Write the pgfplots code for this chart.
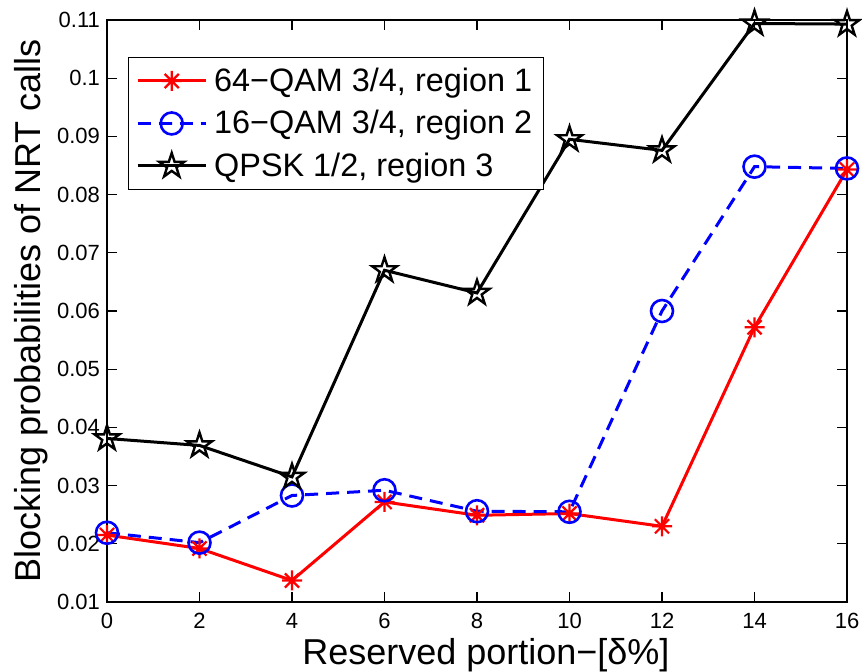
\documentclass[border=0pt]{standalone}
\usepackage{fontspec}
\setmainfont{Liberation Sans}
\usepackage{pgfplots}
\pgfplotsset{compat=1.18}
\pgfdeclareplotmark{pentagram}{%
  \pgfpathmoveto{\pgfpointpolar{90}{\pgfplotmarksize}}%
  \pgfpathlineto{\pgfpointpolar{126}{0.382\pgfplotmarksize}}%
  \pgfpathlineto{\pgfpointpolar{162}{\pgfplotmarksize}}%
  \pgfpathlineto{\pgfpointpolar{198}{0.382\pgfplotmarksize}}%
  \pgfpathlineto{\pgfpointpolar{234}{\pgfplotmarksize}}%
  \pgfpathlineto{\pgfpointpolar{270}{0.382\pgfplotmarksize}}%
  \pgfpathlineto{\pgfpointpolar{306}{\pgfplotmarksize}}%
  \pgfpathlineto{\pgfpointpolar{342}{0.382\pgfplotmarksize}}%
  \pgfpathlineto{\pgfpointpolar{18}{\pgfplotmarksize}}%
  \pgfpathlineto{\pgfpointpolar{54}{0.382\pgfplotmarksize}}%
  \pgfpathclose
  \pgfusepathqstroke
}
\pgfdeclareplotmark{matstar}{%
  \pgfpathmoveto{\pgfqpoint{0pt}{\pgfplotmarksize}}%
  \pgfpathlineto{\pgfqpoint{0pt}{-\pgfplotmarksize}}%
  \pgfpathmoveto{\pgfqpoint{\pgfplotmarksize}{0pt}}%
  \pgfpathlineto{\pgfqpoint{-\pgfplotmarksize}{0pt}}%
  \pgfpathmoveto{\pgfpointpolar{45}{\pgfplotmarksize}}%
  \pgfpathlineto{\pgfpointpolar{225}{\pgfplotmarksize}}%
  \pgfpathmoveto{\pgfpointpolar{135}{\pgfplotmarksize}}%
  \pgfpathlineto{\pgfpointpolar{315}{\pgfplotmarksize}}%
  \pgfusepathqstroke
}
\begin{document}
\begin{tikzpicture}
\begin{axis}[
  scale only axis,
  width=370pt, height=291pt,
  xmin=0, xmax=16, ymin=0.01, ymax=0.11,
  xtick={0,2,...,16},
  ytick={0.01,0.02,0.03,0.04,0.05,0.06,0.07,0.08,0.09,0.1,0.11},
  scaled y ticks=false,
  yticklabel style={/pgf/number format/fixed, /pgf/number format/precision=2},
  xticklabel style={yshift=-2pt},
  /pgf/number format/assume math mode=true,
  tick align=inside,
  major tick length=5pt,
  tick style={black, line width=0.6pt},
  axis line style={line width=0.6pt},
  ticklabel style={font=\fontsize{11}{12}\selectfont},
  xlabel={Reserved portion−[δ\%]},
  ylabel={Blocking probabilities of NRT calls},
  label style={font=\fontsize{18}{20}\selectfont},
  xlabel style={at={(axis description cs:0.512,-0.1082)}, anchor=base},
  ylabel style={at={(axis description cs:-0.0905,0.5)}, anchor=base, rotate=0},
  legend style={at={(0.028,0.936)}, anchor=north west, font=\fontsize{16.2}{18}\selectfont, draw=black, line width=0.5pt, row sep=5pt, column sep=2pt, inner xsep=4pt, inner ysep=3.5pt, nodes={inner sep=1.5pt}},
  legend cell align=left,
  legend image code/.code={%
    \draw[mark repeat=2,mark phase=2] plot coordinates {(0pt,0pt) (17pt,0pt) (34pt,0pt)};},
]
\addplot[red, line width=1.5pt, mark=matstar, mark size=5pt, mark options={solid, line width=1.1pt}]
coordinates {(0,0.0215) (2,0.0192) (4,0.0137) (6,0.0272) (8,0.0249) (10,0.0252) (12,0.0230) (14,0.0572) (16,0.0843)};
\addlegendentry{64−QAM 3/4, region 1}
\addplot[blue, line width=1.5pt, dash pattern=on 6.5pt off 4pt, mark=o, mark size=5.5pt, mark options={solid, line width=1.3pt}]
coordinates {(0,0.0219) (2,0.0202) (4,0.0283) (6,0.0292) (8,0.0256) (10,0.0255) (12,0.0600) (14,0.0848) (16,0.0845)};
\addlegendentry{16−QAM 3/4, region 2}
\addplot[black, line width=1.5pt, mark=pentagram, mark size=6.5pt, mark options={solid, line width=1.2pt}]
coordinates {(0,0.0381) (2,0.0369) (4,0.0315) (6,0.0670) (8,0.0631) (10,0.0895) (12,0.0876) (14,0.1094) (16,0.1093)};
\addlegendentry{QPSK 1/2, region 3}
\end{axis}
\pgfresetboundingbox
\path ([shift={(-53.5pt,-34.5pt)}]current axis.south west) rectangle ([shift={(7.5pt,10pt)}]current axis.north east);
\end{tikzpicture}
\end{document}
